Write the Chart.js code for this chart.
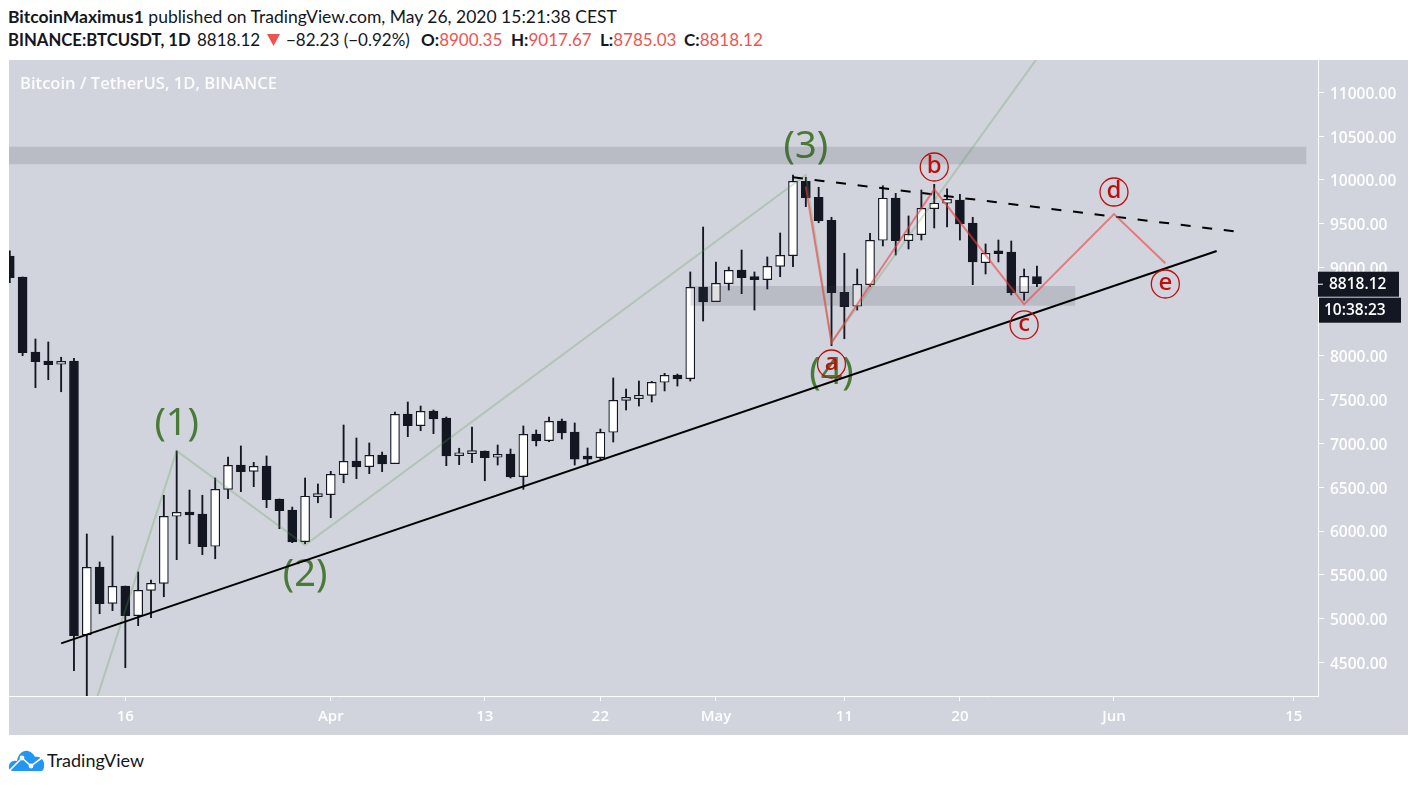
<!DOCTYPE html>
<html>
<head>
<meta charset="utf-8">
<script src="https://cdn.jsdelivr.net/npm/chart.js@4"></script>
<style>
  html, body { margin: 0; padding: 0; background: #fff; }
  body { width: 1417px; height: 785px; position: relative; overflow: hidden; font-family: Lato, sans-serif; color: #131722; }
  #panel { position: absolute; left: 9px; top: 60px; width: 1399px; height: 675px; background: #d1d4dc; }
  #chart { position: absolute; left: 0; top: 0; }
  .line { position: absolute; white-space: nowrap; font-size: 17px; line-height: 22px; }
  .line b { font-weight: 700; }
  .red { color: #ef5350; }
  #title { position: absolute; left: 20px; top: 71px; color: #fff; font: 600 16.6px "Open Sans", sans-serif; opacity: .93; white-space: nowrap; }
  #brand { position: absolute; left: 47px; top: 749px; font-size: 18px; line-height: 22px; }
  #logo { position: absolute; left: 8px; top: 749px; }
</style>
</head>
<body>
<div class="line" style="left:8px;top:6px;font-size:17.5px"><b>BitcoinMaximus1</b> published on TradingView.com, May 26, 2020 15:21:38 CEST</div>
<div class="line" style="left:8px;top:29px;font-size:16.7px"><b>BINANCE:BTCUSDT, 1D</b></div>
<div class="line" style="left:197px;top:29px">8818.12</div>
<svg style="position:absolute;left:266px;top:33px" width="15" height="14"><path d="M1 1H14L7.5 13Z" fill="#ef5350"/></svg>
<div class="line" style="left:286px;top:29px">−82.23 (−0.92%)</div>
<div class="line" style="left:421px;top:29px"><b>O:</b><span class="red">8900.35</span></div>
<div class="line" style="left:511px;top:29px"><b>H:</b><span class="red">9017.67</span></div>
<div class="line" style="left:600px;top:29px"><b>L:</b><span class="red">8785.03</span></div>
<div class="line" style="left:684px;top:29px"><b>C:</b><span class="red">8818.12</span></div>

<div id="panel"><canvas id="chart" width="1399" height="675"></canvas></div>
<div id="title">Bitcoin / TetherUS, 1D, BINANCE</div>

<svg id="logo" width="37" height="24" viewBox="0 0 37 24">
  <path d="M1 20 C0 13 5 11 9 12 C10 5 15 1 20 2 C24 3 26 6 27 8 C33 7 37 12 36 17 C36 20 35 22 33 22 H4 Z" fill="#2196f3"/>
  <path d="M2 21 L14 9 L23 17 L35 8" fill="none" stroke="#fff" stroke-width="1.6"/>
  <circle cx="14" cy="9" r="2.4" fill="#fff"/><circle cx="23" cy="17" r="2.4" fill="#fff"/>
</svg>
<div id="brand">TradingView</div>

<script>
// day 0 is 16 Mar 2020, one step on the x axis is one daily candle
const firstDay = -9;
const opens = [9134,8895,8040,7937,7900,7937,4815,5590,5176,5373,5035,5324,5404,6168,6216,6194,5826,6475,6752,6680,6741,6365,6239,5878,6391,6414,6642,6798,6733,6866,6767,7333,7200,7367,7288,6858,6881,6912,6840,6878,6619,7105,7029,7254,7128,6843,6835,7125,7489,7508,7546,7695,7778,7736,8781,8613,8818,8974,8895,8864,9016,9137,9985,9803,9541,8720,8561,8807,9313,9795,9308,9377,9673,9735,9772,9510,9058,9179,9179,8716,8900.35];
const highs = [9194,8895,8188,8154,7980,7968,5966,5647,5943,5373,5533,5441,6407,6912,6467,6407,6604,6843,6969,6783,6855,6365,6273,6604,6536,6680,7208,7060,7003,6900,7356,7470,7424,7379,7299,6943,7185,6912,6980,6934,7197,7151,7299,7276,7231,6946,7162,7744,7618,7709,7706,7797,7789,8952,9464,9065,9008,9202,8952,9123,9396,10057,10030,9917,9575,9165,8986,9393,9935,9848,9590,9886,9951,9898,9837,9575,9271,9316,9305,8986,9017.67];
const lows = [8830,7998,7633,7724,7587,4408,3782,5057,5092,4442,4921,5012,5251,5673,5855,5730,5684,6368,6448,6505,6266,6026,5867,5855,6322,6152,6550,6596,6653,6676,6767,7075,7143,7109,6744,6756,6778,6573,6752,6604,6475,6969,7018,7048,6752,6752,6809,7014,7379,7424,7470,7596,7652,7709,8393,8613,8746,8704,8518,8758,8898,9012,9696,9513,8112,8191,8518,8784,9248,9145,9214,9316,9453,9464,9316,8807,8929,9066,8690,8629,8785.03];
const closes = [8887,8032,7929,7895,7934,4807,5586,5171,5370,5035,5324,5404,6168,6213,6182,5821,6475,6749,6676,6737,6357,6231,5875,6396,6418,6646,6794,6729,6863,6764,7330,7200,7364,7276,6855,6886,6908,6835,6874,6615,7102,7026,7250,7117,6820,6820,7125,7489,7512,7546,7695,7774,7732,8777,8610,8823,8971,8886,8864,9016,9142,9985,9798,9536,8716,8556,8811,9313,9792,9308,9381,9677,9735,9780,9499,9066,9165,9160,8716,8903,8818.12];

const priceTicks = [4500,5000,5500,6000,6500,7000,7500,8000,8500,9000,9500,10000,10500,11000];
const dayTicks = [0,16,28,37,46,56,65,77,91];
const dayTickLabels = ['16','Apr','13','22','May','11','20','Jun','15'];

const waveDays = [-3,4,14,53,55,73];
const wavePrices = [3740,6912,5840,10057,8146,11789];
const abcDays = [53,55,63,70,77,81];
const abcPrices = [9924,8146,9894,8583,9612,9051];
const supportDays = [-5,85];
const supportPrices = [4720,9191];
const resistDays = [52,86.8];
const resistPrices = [10031,9407];
const topZoneDays = [-10,92];
const topZonePrices = [10379,10179];
const lowZoneDays = [44,74];
const lowZonePrices = [8792,8567];

const waveLabels = ['(1)','(2)','(3)','(4)'];
const waveLabelDays = [4,14,53,55];
const waveLabelPrices = [7219,5498,10376,7801];
const circleLabels = ['a','b','c','d','e'];
const circleDays = [55,63,70,77,81];
const circlePrices = [7903,10148,8348,9863,8815];

const lastPrice = '8818.12';
const countdown = '10:38:23';

const dark = '#131722';
const days = opens.map((_, i) => firstDay + i);
const pts = (xs, ys) => xs.map((x, i) => ({ x, y: ys[i] }));
const bodies = up => days
  .map((d, i) => ({ x: d, y: [opens[i], closes[i]] }))
  .filter((_, i) => (closes[i] >= opens[i]) === up);

const zone = (xs, ys, order) => ({
  type: 'line', data: pts(xs, [ys[0], ys[0]]), borderWidth: 0, pointRadius: 0,
  fill: { value: ys[1] }, backgroundColor: 'rgba(60,62,80,0.16)', order
});
const path = (xs, ys, color, width, order, dash) => ({
  type: 'line', data: pts(xs, ys), borderColor: color, borderWidth: width,
  pointRadius: 0, tension: 0, fill: false, order, borderDash: dash || []
});
const noPadding = s => { s.paddingLeft = s.paddingRight = s.paddingTop = s.paddingBottom = 0; };

const overlayText = {
  id: 'overlayText',
  beforeDatasetsDraw(chart) {
    const { ctx, scales: { x, y } } = chart;
    ctx.save();
    ctx.font = '38px "Noto Sans"';
    ctx.fillStyle = '#4a7a38';
    ctx.textAlign = 'center';
    ctx.textBaseline = 'middle';
    waveLabels.forEach((t, i) => ctx.fillText(t, x.getPixelForValue(waveLabelDays[i]), y.getPixelForValue(waveLabelPrices[i])));
    ctx.restore();
  },
  afterDatasetsDraw(chart) {
    const { ctx, scales: { x, y } } = chart;
    ctx.save();
    ctx.font = '500 24px "Noto Sans"';
    ctx.fillStyle = '#c00c0c';
    ctx.textAlign = 'center';
    ctx.textBaseline = 'middle';
    circleLabels.forEach((t, i) => ctx.fillText(t, x.getPixelForValue(circleDays[i]), y.getPixelForValue(circlePrices[i]) - 1));
    ctx.restore();
  },
  afterDraw(chart) {
    // last price tag and countdown on the price axis
    const { ctx, chartArea, scales: { y } } = chart;
    const py = y.getPixelForValue(closes[closes.length - 1]);
    const left = chartArea.right;
    ctx.save();
    ctx.fillStyle = dark;
    ctx.fillRect(left, py - 12, 81, 25);
    ctx.fillRect(left + 1, py + 14, 82, 25);
    ctx.fillStyle = '#fff';
    ctx.fillRect(left, py, 5, 1);
    ctx.font = '600 15.5px "Open Sans"';
    ctx.textBaseline = 'middle';
    ctx.fillText(lastPrice, left + 11, py + 1);
    ctx.fillText(countdown, left + 6, py + 27);
    ctx.restore();
  }
};

new Chart(document.getElementById('chart'), {
  type: 'bar',
  data: {
    datasets: [
      { label: 'wicks', data: days.map((d, i) => ({ x: d, y: [lows[i], highs[i]] })), backgroundColor: dark, barThickness: 1.2, grouped: false, order: 10 },
      { label: 'up', data: bodies(true), backgroundColor: '#ffffff', borderColor: dark, borderWidth: 1.2, borderSkipped: false, barThickness: 9, minBarLength: 3, grouped: false, order: 9 },
      { label: 'down', data: bodies(false), backgroundColor: dark, borderColor: dark, borderWidth: 1, borderSkipped: false, barThickness: 9, minBarLength: 3, grouped: false, order: 9 },
      zone(topZoneDays, topZonePrices, 6),
      zone(lowZoneDays, lowZonePrices, 6),
      path(waveDays, wavePrices, 'rgba(84,150,70,0.26)', 2, 5),
      path(supportDays, supportPrices, '#000000', 2, 4),
      path(resistDays, resistPrices, '#000000', 2, 4, [10, 11.7]),
      path(abcDays, abcPrices, 'rgba(240,60,60,0.6)', 2, 3),
      { type: 'line', data: pts(circleDays, circlePrices), showLine: false, pointRadius: 14, pointBorderWidth: 1.3, pointBackgroundColor: 'rgba(0,0,0,0)', pointBorderColor: '#c00c0c', order: 2 }
    ]
  },
  options: {
    responsive: false,
    animation: false,
    devicePixelRatio: 1,
    // the plot has to run right up to the canvas edges
    layout: { padding: 0, autoPadding: false },
    plugins: { legend: { display: false }, tooltip: { enabled: false } },
    scales: {
      x: {
        type: 'linear', min: -9.06, max: 92.89, offset: false,
        afterBuildTicks: s => { s.ticks = dayTicks.map(value => ({ value })); },
        afterFit: s => { s.height = 39; noPadding(s); },
        grid: { drawOnChartArea: false, offset: false, color: '#fff', tickLength: 5 },
        border: { color: '#fff', width: 1 },
        ticks: {
          color: '#fff', font: { family: 'Open Sans', size: 15, weight: '600' },
          padding: 7, autoSkip: false, maxRotation: 0,
          callback: v => dayTickLabels[dayTicks.indexOf(v)]
        }
      },
      y: {
        position: 'right', min: 4119.7, max: 11367.5,
        afterBuildTicks: s => { s.ticks = priceTicks.map(value => ({ value })); },
        afterFit: s => { s.width = 90; noPadding(s); },
        grid: { drawOnChartArea: false, color: '#fff', tickLength: 6 },
        border: { color: '#fff', width: 1 },
        ticks: {
          // empty first line plus a small lineHeight nudges the labels 2px down
          color: '#fff', font: { family: 'Open Sans', size: 15.5, weight: '600', lineHeight: '4px' },
          padding: 6, callback: v => ['', v.toFixed(2)]
        }
      }
    }
  },
  plugins: [overlayText]
});
</script>
</body>
</html>
